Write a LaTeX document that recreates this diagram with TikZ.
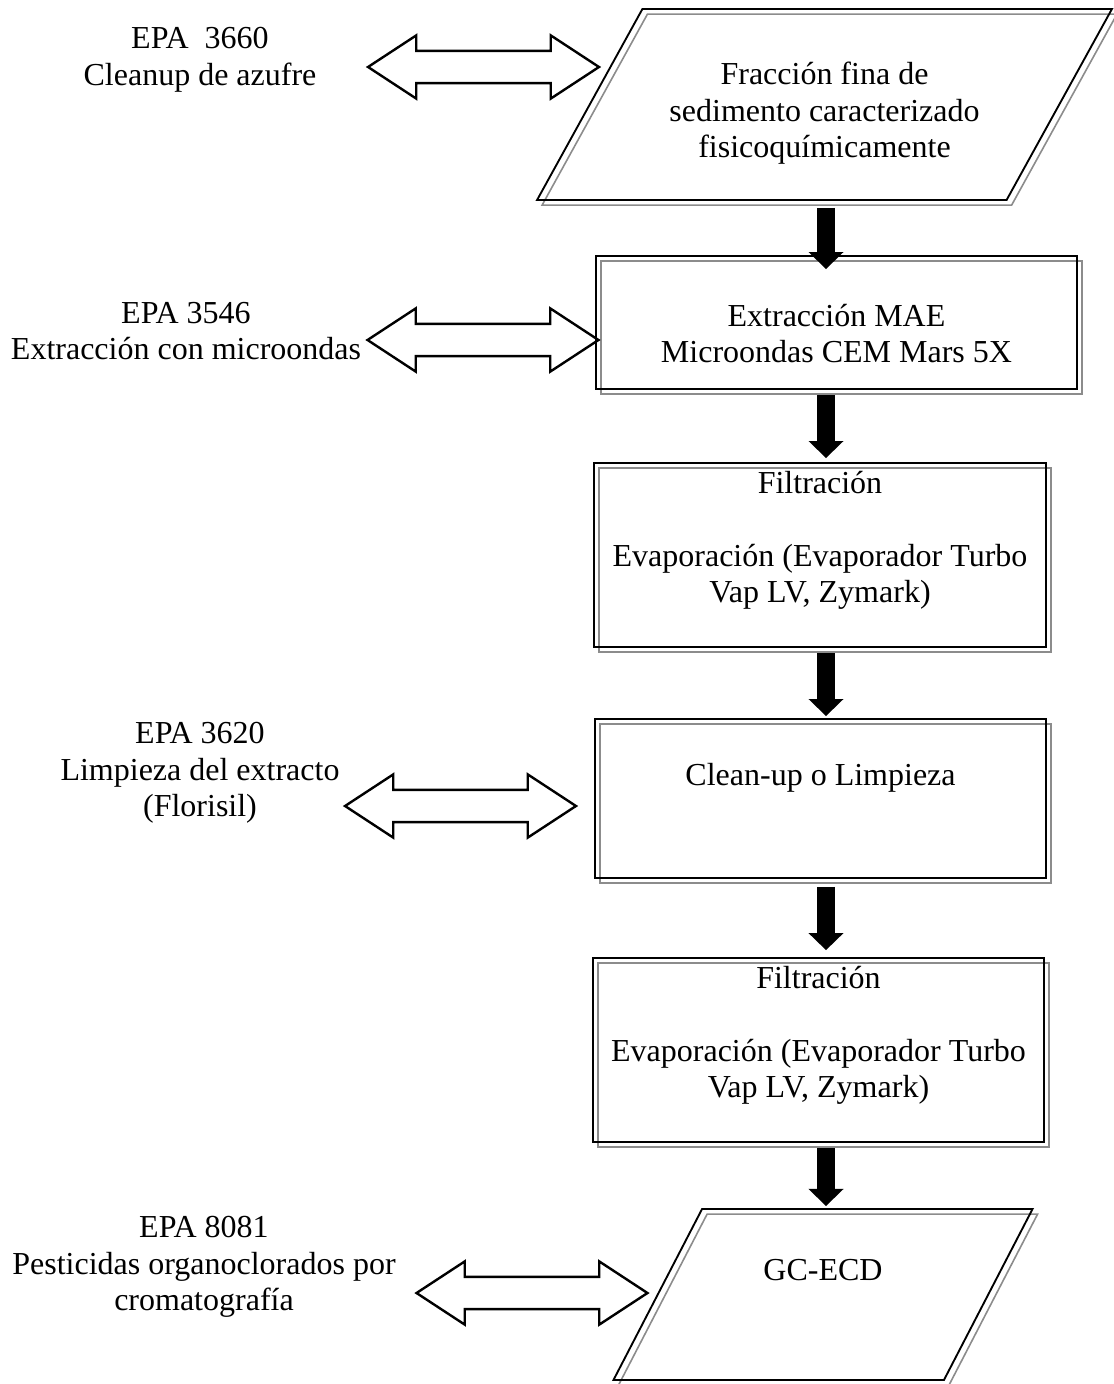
\documentclass[tikz,border=0pt]{standalone}
\usepackage{fontspec}
\setmainfont{Liberation Serif}
\usetikzlibrary{shapes.geometric}
\usetikzlibrary{shapes.arrows}
\usetikzlibrary{arrows.meta}
\usetikzlibrary{shadows}

\def\px{0.375pt}

\tikzset{
  caja/.style={draw, line width=0.7pt, align=center, inner sep=0pt,
    general shadow={shadow xshift=1.9pt, shadow yshift=-1.9pt, draw=black!45, line width=0.6pt}},
  paralelo/.style={caja, trapezium, trapezium stretches=true},
  flecha/.style={line width=6.56pt, -{Triangle[width=12.75pt, length=6.4pt]}},
  dobleflecha/.style={double arrow, draw, line width=0.9pt, inner xsep=0pt, inner ysep=5.6pt,
    minimum height=86.6pt, minimum width=22.9pt,
    double arrow head extend=5.8pt, double arrow tip angle=66.5},
  etiqueta/.style={align=center, inner sep=0pt}
}

\begin{document}
\begin{tikzpicture}[x=\px, y=-\px, every node/.style={font=\fontsize{12}{13.7}\selectfont}]
  \useasboundingbox (0,0) rectangle (1113,1384);
  % eje de las flechas verticales
  \coordinate (eje) at (826,0);

  % figuras del diagrama
  \node[paralelo, trapezium left angle=53.2, trapezium right angle=126.8,
        minimum width=575*\px, minimum height=191*\px] (p1) at (824.5,104.5)
        {\mbox{}\\[1.3pt]Fracción fina de\\sedimento caracterizado\\fisicoquímicamente};
  \node[caja, minimum width=481*\px, minimum height=133*\px] (b2) at (836.5,322.5)
        {\mbox{}\\[3pt]Extracción MAE\\Microondas CEM Mars 5X};
  \node[caja, minimum width=452*\px, minimum height=184*\px] (b3) at (820,555)
        {Filtración\\\mbox{}\\Evaporación (Evaporador Turbo\\Vap LV, Zymark)\\\mbox{}};
  \node[caja, minimum width=451*\px, minimum height=159*\px] (b4) at (820.5,798.5)
        {Clean-up o Limpieza\\[4.5pt]\mbox{}};
  \node[caja, minimum width=451*\px, minimum height=184*\px] (b5) at (818.5,1050)
        {Filtración\\\mbox{}\\Evaporación (Evaporador Turbo\\Vap LV, Zymark)\\\mbox{}};
  \node[paralelo, trapezium left angle=58.45, trapezium right angle=121.55,
        minimum width=420*\px, minimum height=171*\px] (p2) at (823,1294.5)
        {GC-ECD\\[5pt]\mbox{}};

  % metodos EPA
  \node[etiqueta] (e1) at (200,60) {EPA\ \ 3660\\Cleanup de azufre};
  \node[etiqueta] (e2) at (186,331) {EPA 3546\\Extracción con microondas};
  \node[etiqueta] (e3) at (200,773) {EPA 3620\\Limpieza del extracto\\(Florisil)};
  \node[etiqueta] (e4) at (204,1267) {EPA 8081\\Pesticidas organoclorados por\\cromatografía};

  % flechas dobles
  \node[dobleflecha] (d1) at (483.5,67) {};
  \node[dobleflecha] (d2) at (483,340) {};
  \node[dobleflecha] (d3) at (460.5,806) {};
  \node[dobleflecha] (d4) at (532,1293) {};

  % flechas del proceso
  \draw[flecha, shorten <=2.6pt, shorten >=-5.25pt] (p1.south -| eje) -- (b2.north -| eje);
  \draw[flecha, shorten <=1.9pt, shorten >=1.5pt] (b2.south -| eje) -- (b3.north -| eje);
  \draw[flecha, shorten <=1.9pt, shorten >=0.75pt] (b3.south -| eje) -- (b4.north -| eje);
  \draw[flecha, shorten <=3pt, shorten >=2.6pt] (b4.south -| eje) -- (b5.north -| eje);
  \draw[flecha, shorten <=1.9pt, shorten >=0.75pt] (b5.south -| eje) -- (p2.north -| eje);
\end{tikzpicture}
\end{document}
